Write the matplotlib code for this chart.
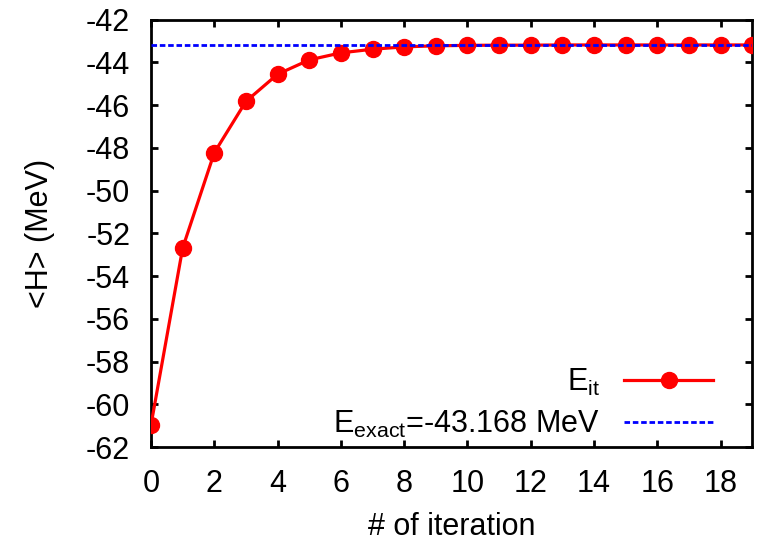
import numpy as np
import matplotlib
matplotlib.use("Agg")
import matplotlib.pyplot as plt

plt.rcParams["font.family"] = ["Liberation Sans", "DejaVu Sans"]
plt.rcParams["mathtext.fontset"] = "custom"
plt.rcParams["mathtext.rm"] = "Liberation Sans"
plt.rcParams["mathtext.it"] = "Liberation Sans"
plt.rcParams["axes.unicode_minus"] = False

# iteration data
iterations = list(range(20))
energies = [-60.95, -52.68, -48.22, -45.82, -44.55, -43.88, -43.55, -43.38, -43.27,
            -43.22, -43.20, -43.19, -43.19, -43.18, -43.18, -43.18, -43.18, -43.18,
            -43.18, -43.18]
e_exact = -43.168

fig = plt.figure(figsize=(7.59, 5.48), dpi=100)
ax = fig.add_axes([0.199, 0.184, 0.792, 0.78])

ax.plot(iterations, energies, color="red", lw=2.3, marker="o", markersize=11.5,
        label=r"$\mathrm{E_{it}}$", zorder=3)
ax.axhline(e_exact, color="blue", lw=2, ls=(0, (2, 1)),
           label=r"$\mathrm{E_{exact}}$=-43.168 MeV", zorder=4)

ax.set_xlim(0, 19)
ax.set_ylim(-62, -42)
ax.set_xticks(range(0, 19, 2))
ax.set_yticks(range(-62, -41, 2))
ax.tick_params(direction="in", top=True, right=True, length=5, width=2,
               labelsize=22)
ax.tick_params(axis="x", pad=16)
ax.tick_params(axis="y", pad=15)
for s in ax.spines.values():
    s.set_linewidth(2)

ax.set_xlabel("# of iteration", fontsize=22, labelpad=9)
ax.set_ylabel("<H> (MeV)", fontsize=22, labelpad=22)

leg = ax.legend(loc="lower right", bbox_to_anchor=(0.955, -0.012), frameon=False,
                markerfirst=False, fontsize=22, handlelength=2.9,
                handletextpad=0.8, labelspacing=0.35, borderaxespad=0.0)
for t in leg.get_texts():
    t.set_ha("right")

fig.savefig("out.png", dpi=100)
